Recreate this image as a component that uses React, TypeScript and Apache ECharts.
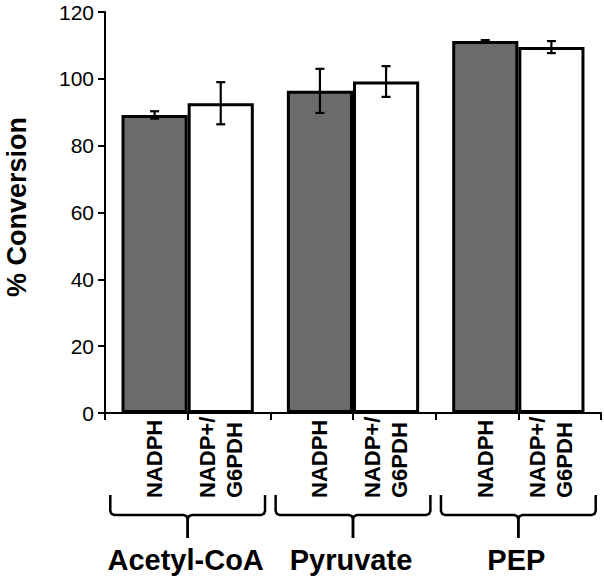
import React, { useEffect, useRef } from 'react';
import * as echarts from 'echarts';

const groups = ['Acetyl-CoA', 'Pyruvate', 'PEP'];
const subLabels = ['NADPH', 'NADP+/\nG6PDH'];
const axisSlots = ['', '', '', '', '', ''];
const nadphValues = [89.2, 96.4, 111.3];
const nadphErrors = [1.1, 6.6, 0.3];
const g6pdhValues = [92.7, 99.2, 109.5];
const g6pdhErrors = [6.3, 4.6, 1.8];
const yMin = 0;
const yMax = 120;
const yInterval = 20;
const yTitle = '% Conversion';

const FONT = "'Liberation Sans', Arial, sans-serif";

function errorSeries(values: number[], errors: number[], sign: number) {
  return {
    type: 'custom',
    xAxisIndex: 0,
    yAxisIndex: 0,
    z: 5,
    data: values.map((v, i) => [i, v - errors[i], v + errors[i]]),
    renderItem: (params: any, api: any) => {
      const ci = api.value(0);
      const lo = api.coord([ci, api.value(1)]);
      const hi = api.coord([ci, api.value(2)]);
      const w = api.size([1, 0])[0];
      const x = lo[0] + sign * 0.2 * w;
      const cap = 4.5;
      const style = { stroke: '#000', lineWidth: 2.2 };
      return {
        type: 'group',
        children: [
          { type: 'line', shape: { x1: x, y1: lo[1], x2: x, y2: hi[1] }, style },
          { type: 'line', shape: { x1: x - cap, y1: hi[1], x2: x + cap, y2: hi[1] }, style },
          { type: 'line', shape: { x1: x - cap, y1: lo[1], x2: x + cap, y2: lo[1] }, style },
        ],
      };
    },
  };
}

export default function App() {
  const ref = useRef<HTMLDivElement>(null);
  useEffect(() => {
    if (!ref.current) return;
    const chart = echarts.init(ref.current, null, { renderer: 'svg' });
    chart.setOption({
      animation: false,
      backgroundColor: '#fff',
      grid: { left: 105, right: 3, top: 12, bottom: 164, containLabel: false },
      xAxis: [
        {
          type: 'category',
          data: groups,
          show: false,
          position: 'bottom',
        },
        {
          type: 'category',
          data: axisSlots,
          position: 'bottom',
          axisLine: { show: true, lineStyle: { color: '#000', width: 2 } },
          axisTick: { show: true, interval: 0, length: 7, lineStyle: { color: '#000', width: 2 } },
          axisLabel: { show: false },
          splitLine: { show: false },
        },
      ],
      yAxis: {
        type: 'value',
        min: yMin,
        max: yMax,
        interval: yInterval,
        axisLine: { show: true, lineStyle: { color: '#000', width: 2 } },
        axisTick: { show: true, length: 7, lineStyle: { color: '#000', width: 2 } },
        axisLabel: { color: '#000', fontSize: 21, fontFamily: FONT, margin: 11 },
        splitLine: { show: false },
      },
      series: [
        {
          type: 'bar',
          name: 'NADPH',
          xAxisIndex: 0,
          data: nadphValues,
          barGap: '0%',
          barCategoryGap: '20%',
          itemStyle: { color: '#6b6b6b', borderColor: '#000', borderWidth: 3 },
        },
        {
          type: 'bar',
          name: 'NADP+/G6PDH',
          xAxisIndex: 0,
          data: g6pdhValues,
          barGap: '0%',
          barCategoryGap: '20%',
          itemStyle: { color: '#ffffff', borderColor: '#000', borderWidth: 3 },
        },
        errorSeries(nadphValues, nadphErrors, -1),
        errorSeries(g6pdhValues, g6pdhErrors, 1),
      ],
    });

    const c0 = chart.convertToPixel({ xAxisIndex: 0 }, 0) as number;
    const c1 = chart.convertToPixel({ xAxisIndex: 0 }, 1) as number;
    const catW = c1 - c0;
    const graphics: any[] = [];
    graphics.push({
      type: 'text',
      x: 17,
      y: 207,
      rotation: Math.PI / 2,
      style: {
        text: yTitle,
        font: `bold 27px ${FONT}`,
        fill: '#000',
        align: 'center',
        verticalAlign: 'middle',
      },
    });
    groups.forEach((g, i) => {
      const cx = chart.convertToPixel({ xAxisIndex: 0 }, i) as number;
      subLabels.forEach((s, k) => {
        const bx = cx + (k === 0 ? -1 : 1) * 0.2 * catW;
        graphics.push({
          type: 'text',
          x: bx,
          y: 498,
          rotation: Math.PI / 2,
          style: {
            text: s,
            font: `bold 22px ${FONT}`,
            fill: '#000',
            align: 'left',
            verticalAlign: 'middle',
            lineHeight: 27,
          },
        });
      });
      const hw = 0.468 * catW;
      const x0 = cx - hw;
      const x1 = cx + hw;
      const yTop = 495;
      const yH = 515;
      const ySp = 538;
      const r = 4;
      const lineStyle = { stroke: '#000', lineWidth: 2.5, fill: null };
      graphics.push({
        type: 'polyline',
        shape: {
          points: [
            [x0, yTop], [x0, yH - r], [x0 + r * 0.3, yH - r * 0.3], [x0 + r, yH],
            [cx - r, yH], [cx - r * 0.3, yH + r * 0.3], [cx, yH + r], [cx, ySp],
          ],
        },
        style: lineStyle,
      });
      graphics.push({
        type: 'polyline',
        shape: {
          points: [
            [x1, yTop], [x1, yH - r], [x1 - r * 0.3, yH - r * 0.3], [x1 - r, yH],
            [cx + r, yH], [cx + r * 0.3, yH + r * 0.3], [cx, yH + r], [cx, ySp],
          ],
        },
        style: lineStyle,
      });
      graphics.push({
        type: 'text',
        x: cx - 2,
        y: 560,
        style: {
          text: g,
          font: `bold 29px ${FONT}`,
          fill: '#000',
          align: 'center',
          verticalAlign: 'middle',
        },
      });
    });
    chart.setOption({ graphic: graphics });
    return () => chart.dispose();
  }, []);
  return (
    <div
      ref={ref}
      style={{ position: 'fixed', left: 0, top: 0, width: 604, height: 577 }}
    />
  );
}
